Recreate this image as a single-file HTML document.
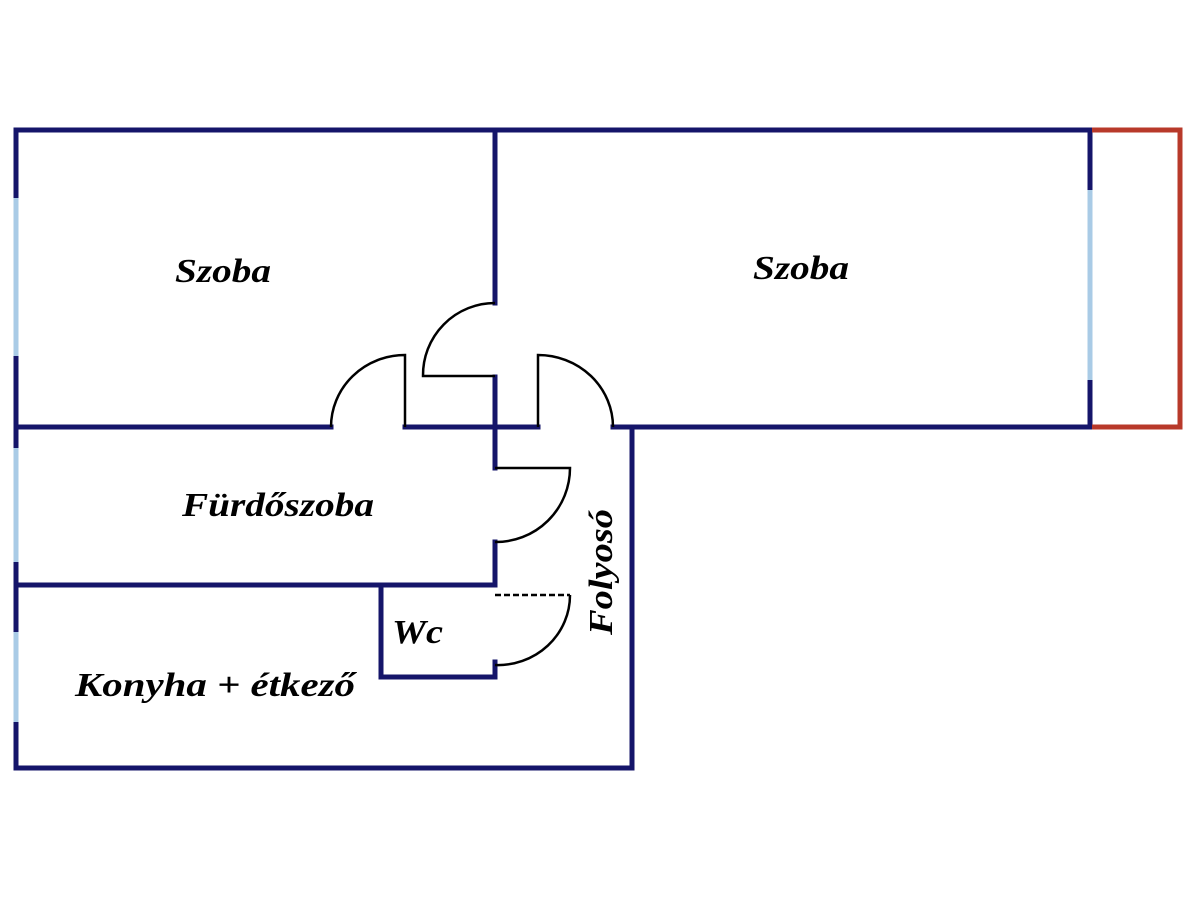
<!DOCTYPE html><html><head><style>body{margin:0;background:#fff}svg{display:block}</style></head><body>
<svg width="1200" height="900" xmlns="http://www.w3.org/2000/svg">
<rect width="1200" height="900" fill="#fff"/>
<g stroke="#15156a" stroke-width="5" fill="none" stroke-linecap="square">
<line x1="16" y1="130" x2="1090" y2="130"/>
<line x1="16" y1="130" x2="16" y2="768"/>
<line x1="16" y1="768" x2="632" y2="768"/>
<line x1="632" y1="427" x2="632" y2="768"/>
<line x1="495" y1="130" x2="495" y2="303"/>
<line x1="495" y1="377" x2="495" y2="468"/>
<line x1="495" y1="542" x2="495" y2="585"/>
<line x1="495" y1="662" x2="495" y2="677"/>
<line x1="16" y1="427" x2="331" y2="427"/>
<line x1="405" y1="427" x2="538" y2="427"/>
<line x1="613" y1="427" x2="1090" y2="427"/>
<line x1="16" y1="585" x2="495" y2="585"/>
<line x1="381" y1="585" x2="381" y2="677"/>
<line x1="381" y1="677" x2="495" y2="677"/>
<line x1="1090" y1="130" x2="1090" y2="427"/>
</g>
<g stroke="#a9cbe6" stroke-width="5">
<line x1="16" y1="198" x2="16" y2="356"/>
<line x1="16" y1="448" x2="16" y2="562"/>
<line x1="16" y1="632" x2="16" y2="722"/>
<line x1="1090" y1="190" x2="1090" y2="380"/>
</g>
<path d="M1092 130 H1180 V427 H1092" stroke="#b8392a" stroke-width="5" fill="none"/>
<g stroke="#000" stroke-width="2.5" fill="none">
<path d="M495 303 A72 72 0 0 0 423 376 L495 376"/>
<path d="M331 427 A74 72 0 0 1 405 355 L405 427"/>
<path d="M538 427 L538 355 A75 72 0 0 1 613 427"/>
<path d="M495 468 L570 468 A74 74 0 0 1 495 542"/>
<path d="M570 595 A72 70 0 0 1 495 665"/>
<path d="M495 595 L570 595" stroke-dasharray="6 3"/>
</g>
<g font-family="Liberation Serif, serif" font-weight="bold" font-style="italic" font-size="34" fill="#000" lengthAdjust="spacingAndGlyphs">
<text x="175" y="282" textLength="96" lengthAdjust="spacingAndGlyphs">Szoba</text>
<text x="753" y="279" textLength="96" lengthAdjust="spacingAndGlyphs">Szoba</text>
<text x="182" y="516" textLength="192" lengthAdjust="spacingAndGlyphs">Fürdőszoba</text>
<text x="392" y="643" textLength="51" lengthAdjust="spacingAndGlyphs">Wc</text>
<text x="75" y="696" textLength="280" lengthAdjust="spacingAndGlyphs">Konyha + étkező</text>
<text transform="translate(612,635) rotate(-90)" textLength="126" lengthAdjust="spacingAndGlyphs">Folyosó</text>
</g>
</svg>
</body></html>
